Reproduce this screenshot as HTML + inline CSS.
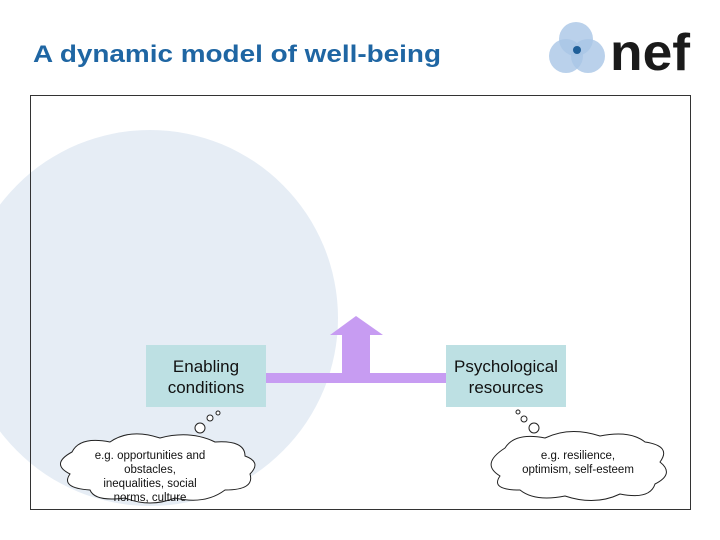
<!DOCTYPE html>
<html><head><style>body{margin:0;background:#fff}svg{display:block}</style></head><body>
<svg width="720" height="540" xmlns="http://www.w3.org/2000/svg" font-family="Liberation Sans, sans-serif">
<circle cx="150" cy="318" r="188" fill="#e6edf5"/>
<rect x="30.5" y="95.5" width="660" height="414" fill="none" stroke="#333" stroke-width="1"/>
<text x="33" y="62" font-size="24" font-weight="bold" fill="#1f66a3" textLength="408" lengthAdjust="spacingAndGlyphs">A dynamic model of well-being</text>
<g>
<circle cx="576" cy="39" r="17" fill="#a9c6e6" opacity="0.8"/>
<circle cx="566" cy="56" r="17" fill="#a9c6e6" opacity="0.8"/>
<circle cx="588" cy="56" r="17" fill="#a9c6e6" opacity="0.8"/>
<circle cx="577" cy="50" r="4" fill="#1f5f99"/>
</g>
<text x="610" y="70" font-size="52" font-weight="bold" fill="#1a1a1a" textLength="80" lengthAdjust="spacingAndGlyphs">nef</text>
<rect x="342" y="334" width="28" height="44" fill="#c79cf2"/>
<polygon points="330,335 356,316 383,335" fill="#c79cf2"/>
<rect x="266" y="373" width="180" height="10" fill="#c79cf2"/>
<rect x="146" y="345" width="120" height="62" fill="#bde0e3"/>
<rect x="446" y="345" width="120" height="62" fill="#bde0e3"/>
<text font-size="17" text-anchor="middle" fill="#111"><tspan x="206" y="372">Enabling</tspan><tspan x="206" y="393">conditions</tspan></text>
<text font-size="17" text-anchor="middle" fill="#111"><tspan x="506" y="372">Psychological</tspan><tspan x="506" y="393">resources</tspan></text>
<g fill="#fff" stroke="#222" stroke-width="1">
<circle cx="218" cy="413" r="2"/><circle cx="210" cy="418" r="3"/><circle cx="200" cy="428" r="5"/>
<circle cx="518" cy="412" r="2"/><circle cx="524" cy="419" r="3"/><circle cx="534" cy="428" r="5"/>
<path d="M72,452 Q80,436 110,442 Q130,428 160,438 Q190,430 215,442 Q245,440 245,456 Q262,462 250,474 Q255,490 225,490 Q205,505 175,498 Q150,508 125,498 Q95,502 90,490 Q60,488 70,474 Q50,464 72,452 Z"/>
<path d="M505,448 Q515,432 545,438 Q570,426 600,436 Q630,430 645,442 Q672,446 660,462 Q675,474 655,484 Q650,500 620,494 Q595,506 565,496 Q535,502 520,490 Q490,490 500,476 Q480,464 505,448 Z"/>
</g>
<text font-size="11.5" text-anchor="middle" fill="#111"><tspan x="150" y="459">e.g. opportunities and</tspan><tspan x="150" y="473">obstacles,</tspan><tspan x="150" y="487">inequalities, social</tspan><tspan x="150" y="501">norms, culture</tspan></text>
<text font-size="11.5" text-anchor="middle" fill="#111"><tspan x="578" y="459">e.g. resilience,</tspan><tspan x="578" y="473">optimism, self-esteem</tspan></text>
</svg>
</body></html>
